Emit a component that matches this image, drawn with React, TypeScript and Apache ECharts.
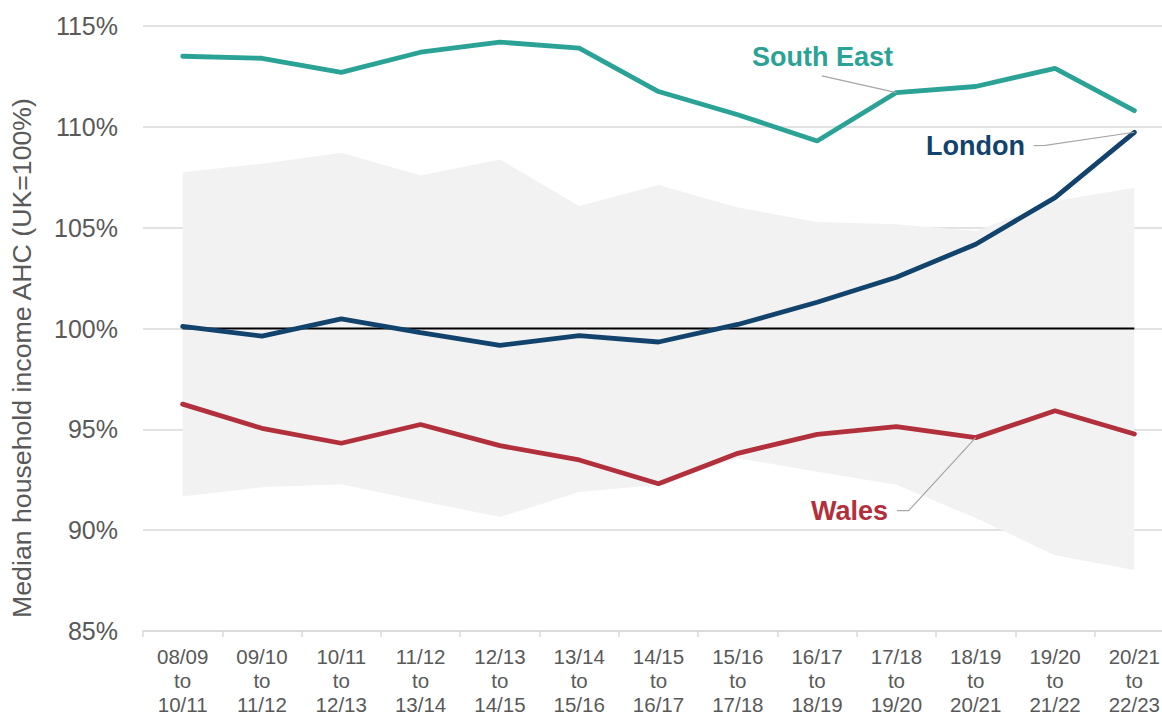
import React, { useEffect, useRef } from "react";
import * as echarts from "echarts";

const categories = [
  "08/09\nto\n10/11", "09/10\nto\n11/12", "10/11\nto\n12/13", "11/12\nto\n13/14",
  "12/13\nto\n14/15", "13/14\nto\n15/16", "14/15\nto\n16/17", "15/16\nto\n17/18",
  "16/17\nto\n18/19", "17/18\nto\n19/20", "18/19\nto\n20/21", "19/20\nto\n21/22",
  "20/21\nto\n22/23",
];
const southEast = [113.5, 113.4, 112.7, 113.7, 114.2, 113.9, 111.75, 110.6, 109.3, 111.7, 112.0, 112.9, 110.8];
const london = [100.1, 99.62, 100.48, 99.8, 99.16, 99.65, 99.33, 100.2, 101.3, 102.54, 104.18, 106.49, 109.73];
const wales = [96.25, 95.05, 94.31, 95.24, 94.19, 93.48, 92.3, 93.81, 94.75, 95.13, 94.59, 95.92, 94.77];
const rangeLow = [91.67, 92.13, 92.28, 91.45, 90.65, 91.89, 92.25, 93.57, 92.9, 92.25, 90.6, 88.76, 88.02];
const rangeHigh = [107.75, 108.17, 108.71, 107.59, 108.38, 106.07, 107.11, 106.0, 105.28, 105.17, 104.84, 106.32, 106.98];
const ukLevel = categories.map(() => 100);
const yTicks = [85, 90, 95, 100, 105, 110, 115];

const FONT = "'Liberation Sans', Arial, sans-serif";
const TEAL = "#2aa396";
const NAVY = "#12436d";
const RED = "#b2303b";
const LEADER = "#a6a6a6";

export default function App() {
  const ref = useRef<HTMLDivElement>(null);
  useEffect(() => {
    if (!ref.current) return;
    const chart = echarts.init(ref.current, undefined, { renderer: "svg" });
    const band = rangeHigh.map((h, i) => +(h - rangeLow[i]).toFixed(2));
    chart.setOption({
      animation: false,
      textStyle: { fontFamily: FONT },
      grid: { left: 143, right: 0, top: 26, bottom: 83 },
      xAxis: {
        type: "category",
        data: categories,
        boundaryGap: true,
        axisLine: { lineStyle: { color: "#d9d9d9", width: 1.5 } },
        axisTick: { show: true, length: 6, lineStyle: { color: "#d9d9d9", width: 1.5 } },
        axisLabel: { color: "#595959", fontSize: 20.5, lineHeight: 24, margin: 13, fontFamily: FONT, interval: 0 },
      },
      yAxis: {
        type: "value",
        min: yTicks[0],
        max: yTicks[yTicks.length - 1],
        interval: 5,
        axisLine: { show: false },
        axisTick: { show: false },
        splitLine: { lineStyle: { color: "#d9d9d9", width: 1.5 } },
        axisLabel: { color: "#595959", fontSize: 25, margin: 25, fontFamily: FONT, formatter: (v: number) => v + "%" },
      },
      series: [
        { name: "low", type: "line", data: rangeLow, stack: "range", symbol: "none", lineStyle: { opacity: 0 }, silent: true },
        { name: "band", type: "line", data: band, stack: "range", symbol: "none", lineStyle: { opacity: 0 }, areaStyle: { color: "#f2f2f2", opacity: 1 }, silent: true },
        { name: "UK", type: "line", data: ukLevel, symbol: "none", lineStyle: { color: "#000000", width: 2 }, z: 3 },
        { name: "Wales", type: "line", data: wales, symbol: "none", lineStyle: { color: RED, width: 4.8, cap: "round" }, z: 4 },
        { name: "South East", type: "line", data: southEast, symbol: "none", lineStyle: { color: TEAL, width: 4.8, cap: "round" }, z: 4 },
        { name: "London", type: "line", data: london, symbol: "none", lineStyle: { color: NAVY, width: 4.8, cap: "round" }, z: 5 },
      ],
    });

    const px = (i: number, v: number) => chart.convertToPixel({ gridIndex: 0 }, [i, v]) as number[];
    const se = px(9, southEast[9]);
    const ld = px(12, london[12]);
    const wl = px(10, wales[10]);
    const labelFont = { fontSize: 27, fontWeight: "bold", fontFamily: FONT };
    chart.setOption({
      graphic: [
        {
          type: "text", rotation: Math.PI / 2, x: 22, y: 358,
          style: { text: "Median household income AHC (UK=100%)", fill: "#595959", fontSize: 26.7, fontFamily: FONT, align: "center", verticalAlign: "middle" },
        },
        { type: "text", x: se[0] - 74, y: se[1] - 36, style: { text: "South East", fill: TEAL, ...labelFont, align: "center", verticalAlign: "middle" } },
        { type: "polyline", shape: { points: [[se[0] - 74.5, se[1] - 16.6], [se[0], se[1]]] }, style: { stroke: LEADER, lineWidth: 1.2, fill: "none" }, z: 10 },
        { type: "text", x: ld[0] - 109.3, y: ld[1] + 14, style: { text: "London", fill: NAVY, ...labelFont, align: "right", verticalAlign: "middle" } },
        { type: "polyline", shape: { points: [[ld[0] - 100.6, ld[1] + 13.3], [ld[0] - 89, ld[1] + 13], [ld[0], ld[1]]] }, style: { stroke: LEADER, lineWidth: 1.2, fill: "none" }, z: 10 },
        { type: "text", x: wl[0] - 87.7, y: wl[1] + 73, style: { text: "Wales", fill: RED, ...labelFont, align: "right", verticalAlign: "middle" } },
        { type: "polyline", shape: { points: [[wl[0] - 78.7, wl[1] + 73], [wl[0] - 67, wl[1] + 73], [wl[0], wl[1]]] }, style: { stroke: LEADER, lineWidth: 1.2, fill: "none" }, z: 10 },
      ],
    });
    return () => chart.dispose();
  }, []);
  return (
    <div style={{ position: "fixed", left: 0, top: 0, width: 1162, height: 716, overflow: "hidden", background: "#fff" }}>
      <div ref={ref} style={{ width: 1174, height: 716 }} />
    </div>
  );
}
